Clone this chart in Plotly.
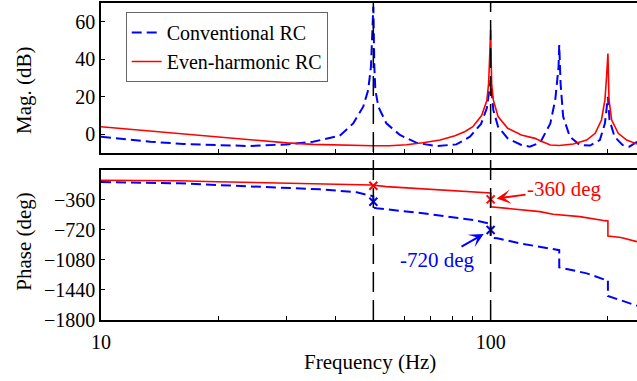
import math
import plotly.graph_objects as go

# ---------------- data ----------------
freq_mag_conv = [10, 13.4, 16.3, 20, 24.1, 29.9, 35, 41, 44.4, 47.1, 48.5, 49.3, 49.7, 50,
                 50.3, 50.6, 51.5, 54, 58.5, 64.6, 72.7, 81.7, 88.5, 94.5, 97.8, 99.4, 100,
                 101.6, 104.5, 110.6, 119.9, 126, 134, 142.3, 146.5, 149.4, 150, 151.2, 153.5,
                 159.7, 169.4, 180, 190.7, 196.5, 198.8, 200, 201.9, 208, 218, 227, 237.5]
mag_conv = [-1.3, -4.0, -5.2, -5.8, -6.3, -5.4, -4.0, -0.8, 5.8, 14.7, 23.6, 36, 54, 68,
            36, 23.6, 14.7, 5.8, -0.4, -4.6, -6.3, -5.4, -1.3, 5.5, 14, 27, 29,
            12.9, 4.0, -2.2, -5.7, -6.6, -4.5, 5.8, 18.3, 36, 47.6, 27, 9.4,
            -1.3, -5.7, -6.0, -3.1, 5.8, 16.5, 20, 7.6, -1.3, -5.7, -6.6, -4.0]

freq_mag_even = [10, 13, 16.3, 20, 25, 30, 35, 40, 45, 50, 55, 60.8, 67, 74.2, 81, 86, 90,
                 94.8, 97.8, 98.8, 99.6, 100, 100.6, 101.6, 104.5, 110.6, 119.9, 130, 134,
                 142.3, 150, 163, 176.4, 185.5, 192.5, 196.5, 198.4, 200, 201.3, 204.5,
                 212.6, 223.4, 237.5]
mag_even = [4.0, 2.0, 0.3, -1.2, -3.3, -4.6, -5.4, -5.8, -6.1, -6.1, -6.1, -5.6, -4.5, -3.1,
            -0.8, 1.5, 4.0, 10, 18, 27, 45, 55.6, 27, 18.3, 9.4, 3.2, -0.4, -2.2, -3.5,
            -5.7, -6.0, -5.2, -3.1, 0.5, 7.6, 18.3, 30.7, 43, 18.3, 7.6,
            0.5, -3.1, -5.2]

freq_ph_conv = [10, 15.9, 19.8, 36.5, 45.3, 49, 50, 50, 51, 67, 90.3, 98.8, 100, 100, 104,
                118.8, 149.4, 150, 150, 176.4, 196.5, 200, 200, 237.5]
ph_conv = [-150, -165, -185, -237, -273, -305, -320, -455, -464, -524, -604, -644, -648, -815,
           -823, -883, -963, -965, -1170, -1242, -1318, -1320, -1513, -1629]

freq_ph_even = [10, 15.9, 19.8, 36.5, 49.5, 54, 72.6, 97.8, 100, 100, 133.8, 144.6, 169.4,
                196.5, 200, 200, 216, 237.5]
ph_even = [-129, -134, -146, -170, -185, -205, -237, -277, -280, -445, -504, -535, -564,
           -612, -615, -795, -813, -863]

mark_freq = [50, 100]
mark_conv = [-385, -724]
mark_even = [-194, -357]

vline_freq = [50, 100]

x_tick_vals = [10, 20, 30, 40, 50, 60, 70, 80, 90, 100, 200]
x_tick_text = ["10", "", "", "", "", "", "", "", "", "100", ""]
mag_ticks = [0, 20, 40, 60]
phase_ticks = [-1800, -1440, -1080, -720, -360]

# ---------------- figure ----------------
W, H = 637, 381
L = 101
PW = W - L
FONT = "Liberation Serif, Times New Roman, serif"
BLUE = "#0000FF"
RED = "#FF0000"


def px(xp):
    return (xp - L) / PW


def py(yp):
    return 1 - yp / H


fig = go.Figure()
fig.add_trace(go.Scatter(x=freq_mag_conv, y=mag_conv, mode="lines", name="Conventional RC",
                         line=dict(color=BLUE, width=2, dash="10px,5px"), xaxis="x", yaxis="y"))
fig.add_trace(go.Scatter(x=freq_mag_even, y=mag_even, mode="lines", name="Even-harmonic RC",
                         line=dict(color=RED, width=1.6), xaxis="x", yaxis="y"))
fig.add_trace(go.Scatter(x=freq_ph_conv, y=ph_conv, mode="lines", showlegend=False,
                         line=dict(color=BLUE, width=2, dash="10px,5px"), xaxis="x2", yaxis="y2"))
fig.add_trace(go.Scatter(x=freq_ph_even, y=ph_even, mode="lines", showlegend=False,
                         line=dict(color=RED, width=1.6), xaxis="x2", yaxis="y2"))

for fq in vline_freq:
    fig.add_shape(type="line", xref="x", yref="paper", x0=fq, x1=fq,
                  y0=py(320), y1=py(3), line=dict(color="black", width=1.5, dash="20px,8px"),
                  layer="above")

fig.add_trace(go.Scatter(x=mark_freq, y=mark_conv, mode="markers", showlegend=False,
                         marker=dict(symbol="x-thin", size=8, line=dict(color=BLUE, width=2)),
                         xaxis="x2", yaxis="y2"))
fig.add_trace(go.Scatter(x=mark_freq, y=mark_even, mode="markers", showlegend=False,
                         marker=dict(symbol="x-thin", size=8, line=dict(color=RED, width=2)),
                         xaxis="x2", yaxis="y2"))

axis_common = dict(showline=True, linecolor="black", linewidth=1.5, ticks="inside", ticklen=4,
                   tickcolor="black", tickwidth=1, showgrid=False, zeroline=False,
                   automargin=False,
                   tickfont=dict(family=FONT, size=20, color="black"))

xr = [1, math.log10(237.5)]
fig.update_layout(
    width=W, height=H, autosize=False,
    font=dict(family=FONT, size=20, color="black"),
    margin=dict(l=L, r=0, t=0, b=0, autoexpand=False),
    paper_bgcolor="white", plot_bgcolor="white",
    showlegend=True,
    legend=dict(x=px(125.7), y=py(12), xanchor="left", yanchor="top",
                bgcolor="white", bordercolor="#666666", borderwidth=1,
                font=dict(family=FONT, size=20, color="black"), tracegroupgap=0),
    xaxis=dict(type="log", range=xr, domain=[0, 1], anchor="y", mirror=True,
               tickvals=x_tick_vals, showticklabels=False, **axis_common),
    yaxis=dict(range=[-10, 70], domain=[py(153), py(3)], anchor="x", mirror=False,
               tickvals=mag_ticks, **axis_common),
    xaxis2=dict(type="log", range=xr, domain=[0, 1], anchor="y2", mirror=True,
                tickvals=x_tick_vals, ticktext=x_tick_text, ticklabelstandoff=3, **axis_common),
    yaxis2=dict(range=[-1800, 0], domain=[py(320), py(169.5)], anchor="x2", mirror=False,
                tickvals=phase_ticks, **axis_common),
)

# axis titles
fig.add_annotation(text="Mag. (dB)", xref="paper", yref="paper", x=px(24), y=py(90),
                   textangle=-90, showarrow=False, xanchor="center", yanchor="middle",
                   font=dict(family=FONT, size=21, color="black"))
fig.add_annotation(text="Phase (deg)", xref="paper", yref="paper", x=px(24), y=py(241.7),
                   textangle=-90, showarrow=False, xanchor="center", yanchor="middle",
                   font=dict(family=FONT, size=21, color="black"))
fig.add_annotation(text="Frequency (Hz)", xref="paper", yref="paper", x=px(370), y=py(361.7),
                   showarrow=False, xanchor="center", yanchor="middle",
                   font=dict(family=FONT, size=21, color="black"))

# arrow annotations
fig.add_annotation(text="-360 deg", xref="x2", yref="y2", x=2, y=mark_even[1],
                   ax=74, ay=-10, showarrow=True, arrowhead=3, arrowsize=1.2, arrowwidth=2,
                   arrowcolor=RED, standoff=6, font=dict(family=FONT, size=21, color=RED))
fig.add_annotation(text="-720 deg", xref="x2", yref="y2", x=2, y=mark_conv[1],
                   ax=-53, ay=30, showarrow=True, arrowhead=3, arrowsize=1.2, arrowwidth=2,
                   arrowcolor=BLUE, standoff=8, font=dict(family=FONT, size=21, color=BLUE))

fig.write_html("out.html", config={"displayModeBar": False, "responsive": False},
               post_script="document.body.style.margin='0px';document.body.style.overflow='hidden';")
